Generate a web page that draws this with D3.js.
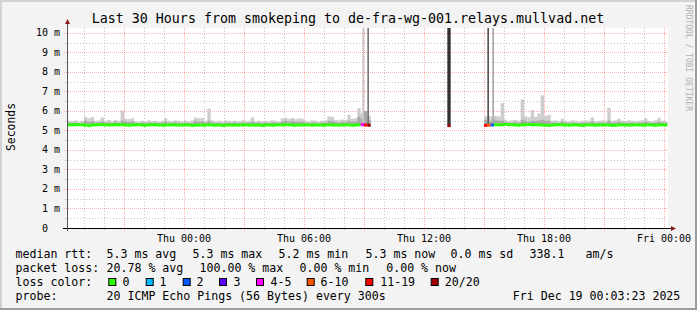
<!DOCTYPE html>
<html><head><meta charset="utf-8">
<script src="https://cdn.jsdelivr.net/npm/d3@7"></script>
<style>html,body{margin:0;padding:0;background:#f3f3f3;}svg{display:block}</style>
</head><body><svg id="c" width="697" height="310"></svg>
<script>
const title = "Last 30 Hours from smokeping to de-fra-wg-001.relays.mullvad.net";
const sampleStart = "2025-12-17T18:10";
const sampleMinutes = 10;
const median = [
5.29,5.29,5.30,5.30,5.29,5.27,5.25,5.28,5.29,5.30,
5.30,5.29,5.28,5.29,5.30,5.29,5.30,5.28,5.27,5.28,
5.29,5.30,5.28,5.27,5.28,5.30,5.29,5.28,5.27,5.28,
5.28,5.29,5.28,5.27,5.28,5.29,5.28,5.26,5.27,5.28,
5.27,5.28,5.29,5.28,5.27,5.28,5.26,5.27,5.28,5.27,
5.28,5.27,5.28,5.29,5.27,5.28,5.27,5.28,5.26,5.28,
5.28,5.27,5.28,5.29,5.28,5.30,5.29,5.28,5.27,5.28,
5.28,5.29,5.28,5.27,5.28,5.28,5.27,5.28,5.29,5.28,
5.28,5.27,5.28,5.29,5.28,5.27,5.28,5.29,5.30,5.28,
5.27,null,null,null,null,null,null,null,null,null,
null,null,null,null,null,null,null,null,null,null,
null,null,null,null,5.25,null,null,null,null,null,
null,null,null,null,null,5.26,5.27,5.28,5.30,5.29,
5.30,5.31,5.29,5.30,5.28,5.27,5.29,5.30,5.31,5.29,
5.30,5.29,5.28,5.27,5.26,5.28,5.29,5.30,5.29,5.28,
5.27,5.28,5.29,5.27,5.26,5.28,5.29,5.28,5.27,5.28,
5.28,5.29,5.28,5.26,5.27,5.28,5.29,5.28,5.27,5.28,
5.29,5.28,5.27,5.28,5.29,5.28,5.27,5.28,5.29,5.28];
const smokeHi = [
5.50,5.48,5.52,5.46,5.50,5.70,5.62,5.68,5.50,5.52,
5.66,5.50,5.54,5.48,5.55,5.50,6.02,5.60,5.58,5.62,
5.48,5.45,5.50,5.46,5.52,5.48,5.50,5.46,5.50,5.62,
5.50,5.48,5.52,5.50,5.46,5.50,5.48,5.52,5.66,5.62,
5.64,5.50,6.12,5.52,5.48,5.50,5.46,5.52,5.50,5.48,
5.50,5.46,5.52,5.48,5.50,5.66,5.48,5.50,5.46,5.50,
5.48,5.52,5.50,5.46,5.62,5.66,5.60,5.64,5.58,5.62,
5.60,5.50,5.48,5.52,5.50,5.46,5.50,5.52,5.72,5.70,
5.55,5.52,5.56,5.54,5.80,5.60,5.62,6.15,5.90,6.00,
5.75,null,null,null,null,null,null,null,null,null,
null,null,null,null,null,null,null,null,null,null,
null,null,null,null,5.40,null,null,null,null,null,
null,null,null,null,null,5.74,5.74,5.70,5.75,5.72,
6.40,5.55,5.50,5.52,5.55,5.50,6.60,5.72,5.68,6.05,
5.70,5.88,6.80,5.75,5.80,5.50,5.52,5.48,5.60,5.50,
5.48,5.52,5.50,5.46,5.50,5.52,5.50,5.66,5.48,5.50,
5.52,5.48,6.17,5.50,5.52,5.60,5.50,5.48,5.52,5.50,
5.48,5.50,5.52,5.62,5.50,5.48,5.52,5.65,5.50,5.48];
const smokeMid = [
5.40,5.38,5.40,5.37,5.40,5.50,5.45,5.48,5.40,5.42,
5.45,5.40,5.42,5.38,5.42,5.40,5.50,5.45,5.44,5.46,
5.38,5.36,5.40,5.37,5.40,5.38,5.40,5.37,5.40,5.45,
5.40,5.38,5.40,5.40,5.37,5.40,5.38,5.40,5.48,5.45,
5.46,5.40,5.50,5.40,5.38,5.40,5.37,5.40,5.40,5.38,
5.40,5.37,5.40,5.38,5.40,5.45,5.38,5.40,5.37,5.40,
5.38,5.40,5.40,5.37,5.46,5.50,5.45,5.48,5.44,5.46,
5.45,5.40,5.38,5.40,5.40,5.37,5.40,5.40,5.50,5.48,
5.42,5.40,5.44,5.42,5.50,5.45,5.46,5.70,5.62,6.00,
5.55,null,null,null,null,null,null,null,null,null,
null,null,null,null,null,null,null,null,null,null,
null,null,null,null,5.35,null,null,null,null,null,
null,null,null,null,null,5.55,5.50,5.50,5.55,5.50,
5.50,5.42,5.40,5.40,5.42,5.40,5.55,5.48,5.45,5.50,
5.48,5.52,5.55,5.50,5.50,5.40,5.40,5.38,5.44,5.40,
5.38,5.40,5.40,5.37,5.40,5.40,5.40,5.45,5.38,5.40,
5.40,5.38,5.50,5.40,5.40,5.45,5.40,5.38,5.40,5.40,
5.38,5.40,5.40,5.45,5.40,5.38,5.40,5.45,5.40,5.38];
const lossTimes = ["2025-12-18T08:50","2025-12-18T09:00","2025-12-18T09:10","2025-12-18T13:10","2025-12-18T15:00","2025-12-18T15:10","2025-12-18T15:20"];
const lossCounts = [5, 15, 20, 20, 15, 8, 2];
const barTimes = ["2025-12-18T08:55","2025-12-18T09:10","2025-12-18T13:10","2025-12-18T15:10","2025-12-18T15:25"];
const barMinutes = [5, 5, 10, 5, 5];
const barShades = ["#c8c8c8","#777777","#333333","#555555","#aaaaaa"];
const yTicks = [0,1,2,3,4,5,6,7,8,9,10];
const xLabels = ["2025-12-18T00:00","2025-12-18T06:00","2025-12-18T12:00","2025-12-18T18:00","2025-12-19T00:00"];
const lossLegend = ["0","1","2","3","4-5","6-10","11-19","20/20"];
const lossColors = ["#26ff00","#00b8ff","#0059ff","#5e00ff","#ff00ff","#ff5500","#ff0000","#a10000"];
const statsRow1 = [["median rtt:",16],["5.3 ms avg",107],["5.3 ms max",193],["5.2 ms min",279],["5.3 ms now",366],["0.0 ms sd",451],["338.1",530],["am/s",586]];
const statsRow2 = [["packet loss:",16],["20.78 % avg",107],["100.00 % max",200],["0.00 % min",300],["0.00 % now",386.7]];
const probeRow = [["probe:",16],["20 ICMP Echo Pings (56 Bytes) every 300s",107],["Fri Dec 19 00:03:23 2025",513.3]];

const svg = d3.select("#c");
const W = 697, H = 310;
const L = 67, R = 667, T = 28, B = 228;
const mono = "'DejaVu Sans Mono', monospace";
const parse = s => new Date(s);
const x = d3.scaleTime().domain([parse("2025-12-17T18:09"), parse("2025-12-19T00:09")]).range([L, R]);
const y = d3.scaleLinear().domain([0, 10.256]).range([B, T]);

// background and frame
svg.append("rect").attr("width", W).attr("height", H).attr("fill", "#f3f3f3");
svg.append("rect").attr("x",0).attr("y",0).attr("width",W).attr("height",2).attr("fill","#d2d2d2");
svg.append("rect").attr("x",0).attr("y",0).attr("width",2).attr("height",H).attr("fill","#d2d2d2");
svg.append("rect").attr("x",W-2).attr("y",0).attr("width",2).attr("height",H).attr("fill","#9c9c9c");
svg.append("rect").attr("x",0).attr("y",H-2).attr("width",W).attr("height",2).attr("fill","#9c9c9c");
svg.append("rect").attr("x", L).attr("y", T).attr("width", R - L + 1).attr("height", B - T).attr("fill", "#ffffff");

// grid
const g = svg.append("g");
const hours = d3.timeHour.range(d3.timeHour.ceil(x.domain()[0]), x.domain()[1]);
hours.forEach(h => {
  const major = h.getHours() % 3 === 0;
  const xx = Math.round(x(h)) + 0.5;
  g.append("line").attr("x1", xx).attr("x2", xx).attr("y1", T).attr("y2", B + (major ? 3 : 2))
    .attr("stroke", major ? "rgba(255,0,0,0.32)" : "rgba(160,160,160,0.6)")
    .attr("stroke-dasharray", major ? "1,1" : "1,2");
});
for (let v = 0.5; v <= 10.01; v += 0.5) {
  const major = Math.abs(v - Math.round(v)) < 1e-6;
  const yy = Math.round(y(v)) + 0.5;
  g.append("line").attr("x1", major ? L - 3 : L - 2).attr("x2", R).attr("y1", yy).attr("y2", yy)
    .attr("stroke", major ? "rgba(255,0,0,0.32)" : "rgba(160,160,160,0.6)")
    .attr("stroke-dasharray", major ? "1,1" : "1,2");
}

// samples
const t0 = parse(sampleStart);
const samples = median.map((m, i) => ({
  t: d3.timeMinute.offset(t0, i * sampleMinutes), m, hi: smokeHi[i], mid: smokeMid[i]
}));
const lossMap = new Map(lossTimes.map((s, i) => [parse(s).getTime(), lossCounts[i]]));
const lossClass = c => c === 0 ? 0 : c === 1 ? 1 : c === 2 ? 2 : c === 3 ? 3 : c <= 5 ? 4 : c <= 10 ? 5 : c <= 19 ? 6 : 7;
const sw = d => x(d3.timeMinute.offset(d.t, sampleMinutes)) - x(d.t);
const valid = samples.filter(d => d.m !== null);

const plot = svg.append("g");
plot.selectAll("rect.hi").data(valid).join("rect").attr("class","hi")
  .attr("x", d => x(d.t)).attr("width", sw)
  .attr("y", d => y(d.hi)).attr("height", d => y(d.m) - y(d.hi)).attr("fill", "#cdcdcd");
plot.selectAll("rect.mid").data(valid).join("rect").attr("class","mid")
  .attr("x", d => x(d.t)).attr("width", sw)
  .attr("y", d => y(d.mid)).attr("height", d => y(d.m) - y(d.mid)).attr("fill", "#a9a9a9");
const bars = barTimes.map((s, i) => ({t: parse(s), min: barMinutes[i], c: barShades[i]}));
plot.selectAll("rect.bar").data(bars).join("rect").attr("class","bar")
  .attr("x", d => x(d.t)).attr("width", d => x(d3.timeMinute.offset(d.t, d.min)) - x(d.t))
  .attr("y", T).attr("height", y(5.3) - T).attr("fill", d => d.c);
plot.selectAll("rect.med").data(valid).join("rect").attr("class","med")
  .attr("x", d => x(d.t)).attr("width", sw)
  .attr("y", d => y(d.m) - 1.5).attr("height", 3)
  .attr("fill", d => lossColors[lossClass(lossMap.get(d.t.getTime()) || 0)]);

// axes
svg.append("line").attr("x1", L - 4).attr("x2", R + 4).attr("y1", B + 0.5).attr("y2", B + 0.5).attr("stroke", "#000");
svg.append("path").attr("d", `M${R+4},${B-2} L${R+9},${B+0.5} L${R+4},${B+3} Z`).attr("fill", "#8b1a1a");
svg.append("line").attr("x1", L + 0.5).attr("x2", L + 0.5).attr("y1", B + 3).attr("y2", T - 4).attr("stroke", "#555");
svg.append("path").attr("d", `M${L-2},${T-4} L${L+0.5},${T-9} L${L+3},${T-4} Z`).attr("fill", "#8b1a1a");

// axis labels
svg.append("g").selectAll("text").data(yTicks).join("text")
  .attr("x", d => d === 0 ? 48 : 60).attr("y", d => y(d) + 3.5)
  .attr("text-anchor", "end").attr("font-family", mono).attr("font-size", 10).attr("fill", "#000")
  .text(d => d === 0 ? "0" : d + " m");
const fmt = d3.timeFormat("%a %H:%M");
svg.append("g").selectAll("text").data(xLabels.map(parse)).join("text")
  .attr("x", d => x(d)).attr("y", 241.5).attr("text-anchor", "middle")
  .attr("font-family", mono).attr("font-size", 10).attr("fill", "#000").text(fmt);

// title
svg.append("text").attr("x", 348).attr("y", 23).attr("text-anchor", "middle")
  .attr("font-family", mono).attr("font-size", 13.3).attr("fill", "#000").text(title);
svg.append("text").attr("transform", "translate(14.5,127) rotate(-90)").attr("text-anchor", "middle")
  .attr("font-family", mono).attr("font-size", 11.4).attr("fill", "#000").text("Seconds");
svg.append("text").attr("transform", "translate(686,5) rotate(90)").attr("text-anchor", "start")
  .attr("font-family", mono).attr("font-size", 8).attr("fill", "#b0b0b0").text("RRDTOOL / TOBI OETIKER");

// legend
const lg = svg.append("g").attr("font-family", mono).attr("font-size", 11.6).attr("fill", "#000");
const row = (items, yy) => items.forEach(([s, xx]) => lg.append("text").attr("x", xx - 0.5).attr("y", yy).text(s));
row(statsRow1, 258.3);
row(statsRow2, 272.3);
row([["loss color:", 16]], 286.3);
const boxX = [108.3,145.7,182.7,219,256,306.7,365.3,430.7];
const labX = [123,160,197,234,271,321,380.7,445.3];
lossLegend.forEach((s, i) => {
  lg.append("rect").attr("x", boxX[i] + 0.5).attr("y", 278.5).attr("width", 7).attr("height", 7)
    .attr("fill", lossColors[i]).attr("stroke", "#000").attr("stroke-width", 1);
  lg.append("text").attr("x", labX[i] - 0.5).attr("y", 286.3).text(s);
});
row(probeRow, 300);
</script></body></html>
